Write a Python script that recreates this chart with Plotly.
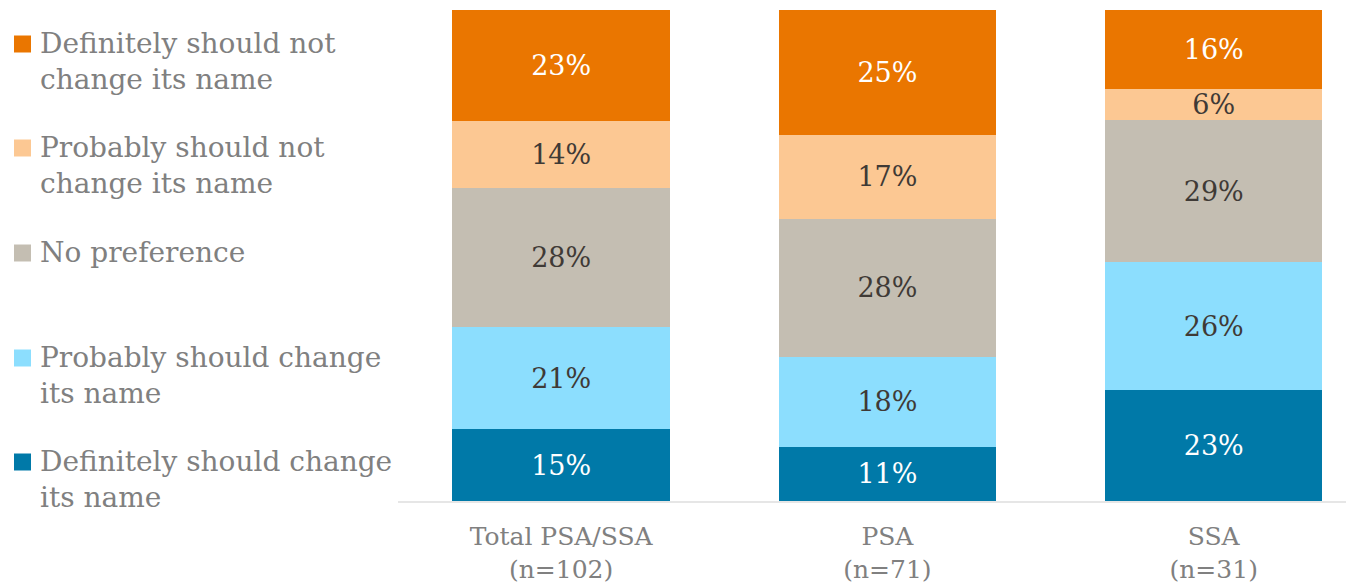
import plotly.graph_objects as go

categories = ["Total PSA/SSA<br>(n=102)", "PSA<br>(n=71)", "SSA<br>(n=31)"]

series_names = [
    "Definitely should change<br>its name",
    "Probably should change<br>its name",
    "No preference",
    "Probably should not<br>change its name",
    "Definitely should not<br>change its name",
]
def_change = [14.6, 11.0, 22.6]
prob_change = [20.8, 18.4, 26.0]
no_pref = [28.3, 28.1, 28.9]
prob_not = [13.7, 17.1, 6.4]
def_not = [22.6, 25.4, 16.1]
series_values = [def_change, prob_change, no_pref, prob_not, def_not]

colors = ["#0079A8", "#8CDEFE", "#C4BEB2", "#FCC893", "#EA7600"]
text_colors = ["#FFFFFF", "#3F3A36", "#3F3A36", "#3F3A36", "#FFFFFF"]

FONT = "DejaVu Serif"
OFF = 8  # page body margin
W, H = 1354 - OFF, 584 - OFF
ML, MR, MT, MB = 398 - OFF, 0, 10 - OFF, 83
PW, PH = W - ML - MR, H - MT - MB


def px_x(px):
    return (px - OFF - ML) / PW


def px_y(py):
    return (H - MB - (py - OFF)) / PH


fig = go.Figure()
for i, (name, vals) in enumerate(zip(series_names, series_values)):
    fig.add_trace(go.Bar(
        x=categories, y=vals, name=name,
        marker=dict(color=colors[i], line=dict(width=0)),
        texttemplate="%{y:.0f}%",
        textposition="inside",
        insidetextanchor="middle",
        textangle=0,
        constraintext="none",
        textfont=dict(family=FONT, size=27, color=text_colors[i]),
        hoverinfo="skip",
        showlegend=False,
    ))

# legend drawn on the left (top item = last series)
legend_tops = [443, 339, 234, 129, 25]
annotations = []
shapes = []
for i, name in enumerate(series_names):
    top = legend_tops[i]
    annotations.append(dict(
        x=px_x(38), y=px_y(top), xref="paper", yref="paper",
        xanchor="left", yanchor="top", align="left",
        text=name, showarrow=False,
        font=dict(family=FONT, size=28, color="#808080"),
    ))
    cy = top + 19
    shapes.append(dict(
        type="rect", xref="paper", yref="paper",
        x0=px_x(14), x1=px_x(31), y0=px_y(cy - 8.5), y1=px_y(cy + 8.5),
        fillcolor=colors[i], line=dict(width=0), layer="above",
    ))

fig.update_layout(
    barmode="stack",
    bargap=0.334,
    width=W, height=H,
    margin=dict(l=ML, r=MR, t=MT, b=MB, autoexpand=False),
    plot_bgcolor="white", paper_bgcolor="white",
    font=dict(family=FONT, color="#808080"),
    showlegend=False,
    annotations=annotations,
    shapes=shapes,
)
fig.update_xaxes(
    range=[-0.5, 2.43],
    showgrid=False, showline=True, linecolor="#E6E6E6", linewidth=2,
    ticks="", ticklabelstandoff=12, automargin=False,
    tickfont=dict(family=FONT, size=25, color="#808080"),
)
fig.update_yaxes(
    range=[0, 100], showgrid=False, showticklabels=False, zeroline=False,
    showline=False, automargin=False,
)

fig.write_html("out.html")
